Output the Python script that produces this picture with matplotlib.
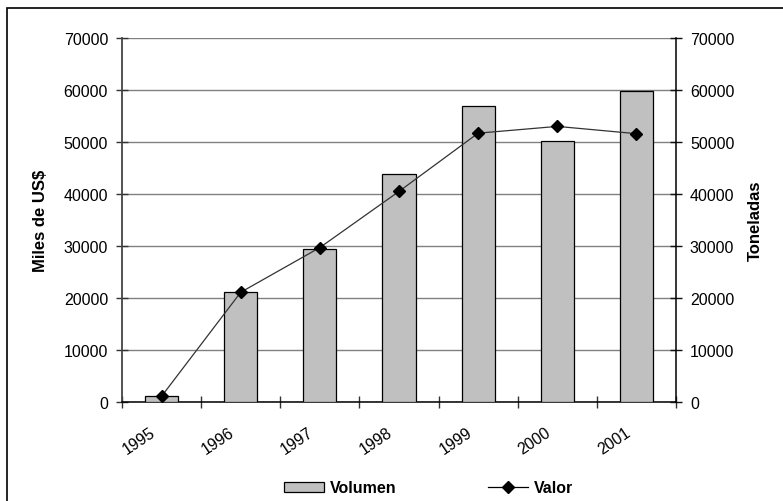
import matplotlib.pyplot as plt
import numpy as np
from matplotlib.patches import Rectangle
from matplotlib.lines import Line2D
from matplotlib.transforms import ScaledTranslation

plt.rcParams["font.family"] = ["Liberation Sans", "DejaVu Sans"]

# --- Data ---
years = ["1995", "1996", "1997", "1998", "1999", "2000", "2001"]
volumen = [1150, 21100, 29400, 43800, 57000, 50250, 59750]
valor = [1100, 21100, 29700, 40500, 51700, 53000, 51600]
y_ticks = [0, 10000, 20000, 30000, 40000, 50000, 60000, 70000]

TICK_FS = 11.5
x = np.arange(len(years))

fig = plt.figure(figsize=(7.83, 5.02), dpi=100)
ax = fig.add_axes([122 / 783, 1 - 403 / 502, 554 / 783, 364 / 502])

# --- Bars: Volumen ---
ax.bar(x, volumen, width=0.42, color="#C0C0C0", edgecolor="black",
       linewidth=0.9, zorder=3)

# --- Line: Valor on the second axis ---
ax2 = ax.twinx()
ax2.plot(x, valor, color="#333333", linewidth=0.9, marker="D",
         markersize=6, markerfacecolor="black", markeredgecolor="black",
         zorder=4)

for a in (ax, ax2):
    a.set_xlim(-0.5, len(years) - 0.5)
    a.set_ylim(0, 70000)
    a.set_yticks(y_ticks)
    a.set_yticklabels([str(t) for t in y_ticks], fontsize=TICK_FS)
    a.spines["top"].set_visible(False)

ax.set_zorder(ax2.get_zorder() - 1)
ax2.patch.set_visible(False)
ax.patch.set_visible(False)

# gridlines
ax.set_axisbelow(True)
ax.grid(axis="y", color="#808080", linewidth=1.0, zorder=0)
ax.grid(axis="x", visible=False)

# category axis: ticks on the boundaries, labels at centers
ax.set_xticks(np.arange(-0.5, len(years), 1))
ax.set_xticklabels([])
ax.set_xticks(x, minor=True)
ax.set_xticklabels(years, minor=True, rotation=34, ha="right",
                   rotation_mode="anchor", fontsize=TICK_FS)
ax.tick_params(axis="x", which="minor", length=0, pad=16)
shift = ScaledTranslation(-12 / 100, 0, fig.dpi_scale_trans)
for lbl in ax.get_xticklabels(minor=True):
    lbl.set_transform(lbl.get_transform() + shift)

ax.tick_params(axis="x", which="major", direction="inout", length=9,
               width=1, color="#333333")
ax.tick_params(axis="y", direction="inout", length=9, width=1,
               color="#333333", pad=5.5)
ax2.tick_params(axis="y", direction="inout", length=9, width=1,
                color="#111111", pad=5.5)

ax.spines["left"].set_color("#444444")
ax.spines["left"].set_linewidth(1.3)
ax.spines["bottom"].set_color("black")
ax.spines["bottom"].set_linewidth(1.1)
ax.spines["right"].set_visible(False)
ax2.spines["left"].set_visible(False)
ax2.spines["bottom"].set_visible(False)
ax2.spines["right"].set_color("black")
ax2.spines["right"].set_linewidth(1.1)

ax.set_ylabel("Miles de US$", fontsize=12, fontweight="bold", labelpad=11)
ax2.set_ylabel("Toneladas", fontsize=12, fontweight="bold", labelpad=10)

# legend
handles = [
    Rectangle((0, 0), 1, 1, facecolor="#C0C0C0", edgecolor="black",
              linewidth=0.9),
    Line2D([], [], color="black", linewidth=0.9, marker="D", markersize=6,
           markerfacecolor="black"),
]
fig.legend(handles, ["Volumen", "Valor"], loc="center",
           bbox_to_anchor=(428.5 / 783, 1 - 489 / 502), ncol=2,
           frameon=False, prop={"size": 11.5, "weight": "bold"},
           handlelength=2.5, handletextpad=0.375, columnspacing=5.75,
           handleheight=0.65, borderpad=0.2)

# outer chart border
fig.patches.append(Rectangle((7 / 783, -0.05), 1.0, 1 - 9 / 502 + 0.05,
                             transform=fig.transFigure, fill=False,
                             edgecolor="black", linewidth=1.2))

fig.savefig("out.png", dpi=100)
